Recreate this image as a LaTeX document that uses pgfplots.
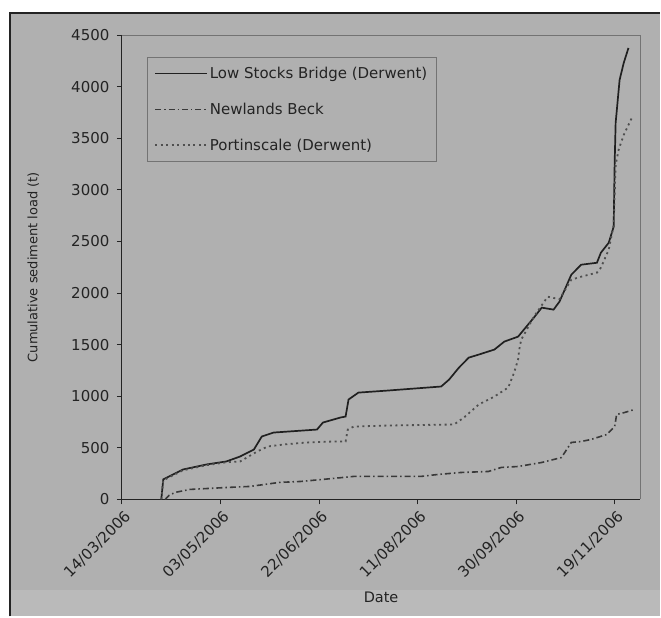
\documentclass[border=0pt]{standalone}
\usepackage{fontspec}
\setmainfont{DejaVu Sans}
\usepackage{pgfplots}
\pgfplotsset{compat=1.18}

\definecolor{bg}{RGB}{176,176,176}
\definecolor{bgl}{RGB}{186,186,186}
\definecolor{ink}{RGB}{35,35,35}
\definecolor{frame}{RGB}{115,115,115}

\begin{document}
\begin{tikzpicture}[x=1bp,y=1bp,font=\fontsize{14.5bp}{16bp}\selectfont]
% page and scanned frame
\fill[white] (0,0) rectangle (661,617);
\fill[bg] (10,0) rectangle (661,604);
\fill[bgl] (10,0) rectangle (661,26);
\draw[ink,line width=1.5bp] (10,0) -- (10,604) -- (661,604);
\begin{axis}[
  at={(122bp,117bp)}, anchor=south west,
  scale only axis, width=519bp, height=465bp,
  xmin=0, xmax=263, ymin=0, ymax=4500,
  axis line style={draw=none},
  xtick={0,50,100,150,200,250},
  xticklabels={14/03/2006,03/05/2006,22/06/2006,11/08/2006,30/09/2006,19/11/2006},
  ytick={0,500,...,4500},
  scaled ticks=false,
  /pgf/number format/1000 sep={},
  /pgf/number format/assume math mode=true,
  tick align=outside, tick pos=left,
  major tick length=5bp,
  tick style={ink,line width=0.8bp},
  ticklabel style={ink,font=\fontsize{15bp}{16bp}\selectfont},
  xticklabel style={rotate=45, anchor=east, yshift=-11bp, xshift=1bp},
  yticklabel style={xshift=-4bp},
  xlabel={Date}, ylabel={Cumulative sediment load (t)},
  xlabel style={ink, at={(axis description cs:0.5,-0.211)}, anchor=center},
  ylabel style={ink, at={(axis description cs:-0.171,0.5)}, anchor=center,
    font=\fontsize{13bp}{15bp}\selectfont},
  legend cell align=left,
  legend style={at={(0.048,0.953)}, anchor=north west, fill=bg, draw=frame,
    line width=0.8bp, text=ink, row sep=19bp, inner xsep=7bp, inner ysep=8bp,
    font=\fontsize{15bp}{16bp}\selectfont},
  legend image code/.code={\draw[#1] (0bp,0bp) -- (52bp,0bp);},
  clip=false,
]
\draw[frame,line width=0.8bp] (rel axis cs:0,1) -- (rel axis cs:1,1) -- (rel axis cs:1,0);
\draw[ink,line width=0.9bp] (rel axis cs:0,1) -- (rel axis cs:0,0) -- (rel axis cs:1,0);

\addplot[ink!90!black, line width=1.7bp] coordinates {
(20,0) (21,194) (24,223) (31,290) (43,339) (53,368) (60,416) (67,484)
(71,610) (77,648) (99,677) (102,745) (111,794) (113.5,803) (115,968)
(120,1035) (135,1055) (162,1094) (166,1161) (171,1277) (176,1374)
(181,1403) (189,1452) (194,1529) (201,1577) (209,1761) (213,1858)
(219,1839) (222,1916) (228,2177) (233,2274) (241,2293) (243,2390)
(247,2487) (249.5,2642) (250,3261) (250.5,3648) (252.5,4064)
(254.6,4229) (257,4374)
};
\addlegendentry{Low Stocks Bridge (Derwent)}

\addplot[ink!90, line width=1.6bp, dash pattern=on 6bp off 3bp on 1.5bp off 3bp] coordinates {
(22,0) (24,40) (27,68) (34.6,97) (53.5,116) (65,126) (80,165) (90.6,174)
(107,203) (117.6,223) (135,223) (151.7,223) (160.4,242) (172,261)
(186,271) (192.5,310) (201,319) (213,358) (223,406) (228,552) (233,561)
(238,581) (246,629) (250,706) (251,823) (255,842) (260,871)
};
\addlegendentry{Newlands Beck}

\addplot[ink!80, line width=1.8bp, dash pattern=on 2bp off 3.5bp] coordinates {
(20,0) (21,185) (24,215) (31,282) (43,332) (53,360) (60,368) (68.7,465)
(74,513) (82,532) (94,552) (107,561) (113.5,561) (114.6,677) (117.6,706)
(135,716) (168.5,726) (173.6,794) (181,919) (189,997) (196,1084)
(199,1229) (201,1355) (201.6,1452) (202.6,1548) (209,1770) (216,1964)
(222,1940) (228,2129) (233,2158) (241,2197) (243,2245) (247,2420)
(249.5,2661) (250.5,3240) (252,3387) (254.6,3532) (258.7,3697)
};
\addlegendentry{Portinscale (Derwent)}
\end{axis}
\end{tikzpicture}
\end{document}
